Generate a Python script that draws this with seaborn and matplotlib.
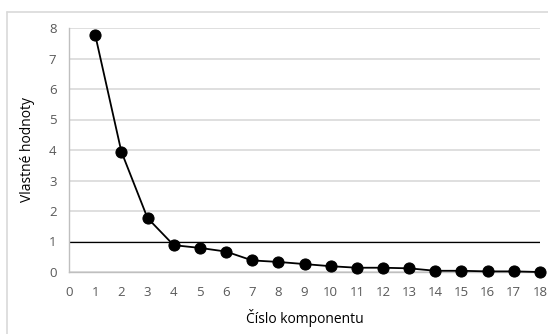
import matplotlib
matplotlib.use('Agg')
import matplotlib.pyplot as plt
import seaborn as sns
import pandas as pd
from matplotlib.lines import Line2D

sns.set_theme(style='white')
plt.rcParams['font.family'] = ['Open Sans', 'DejaVu Sans']

# data
komponent = list(range(1, 19))
vlastne_hodnoty = [7.78, 3.95, 1.77, 0.88, 0.79, 0.67, 0.38, 0.33, 0.26,
                   0.19, 0.14, 0.14, 0.12, 0.04, 0.04, 0.02, 0.02, 0.0]
x_ticks = list(range(0, 19))
y_ticks = list(range(0, 9))
hranica = 1

df = pd.DataFrame({'komponent': komponent, 'hodnota': vlastne_hodnoty})

fig = plt.figure(figsize=[5.48, 3.34], dpi=100)
ax = fig.add_axes([69 / 548, 62 / 334, 471 / 548, 244 / 334])

grey = '#d9d9d9'
ax.set_xlim(0, 18)
ax.set_ylim(0, 8)
ax.set_yticks(y_ticks)
ax.set_xticks(x_ticks)
ax.yaxis.grid(True, color=grey, linewidth=1.2)
ax.xaxis.grid(False)
ax.set_axisbelow(True)

ax.axhline(hranica, color='black', linewidth=0.9, zorder=2)

sns.lineplot(data=df, x='komponent', y='hodnota', ax=ax, color='black',
             linewidth=1.3, marker='o', markersize=8, markeredgecolor='black',
             markerfacecolor='black', clip_on=False, zorder=3)

for s in ['top', 'right']:
    ax.spines[s].set_visible(False)
for s in ['left', 'bottom']:
    ax.spines[s].set_color('#bfbfbf')
    ax.spines[s].set_linewidth(1.0)

ax.tick_params(axis='both', length=0, labelsize=9.5, labelcolor='#595959', pad=9)
ax.tick_params(axis='x', pad=10)
ax.set_xlabel('Číslo komponentu', fontsize=10, color='#000000', labelpad=7)
ax.set_ylabel('Vlastné hodnoty', fontsize=10, color='#000000', labelpad=10)

# outer chart border
fig.add_artist(Line2D([7 / 548, 1], [1 - 12 / 334, 1 - 12 / 334], color=grey,
                      linewidth=1.2, transform=fig.transFigure))
fig.add_artist(Line2D([7 / 548, 7 / 548], [0, 1 - 12 / 334], color=grey,
                      linewidth=1.2, transform=fig.transFigure))

fig.savefig('out.png', dpi=100)
